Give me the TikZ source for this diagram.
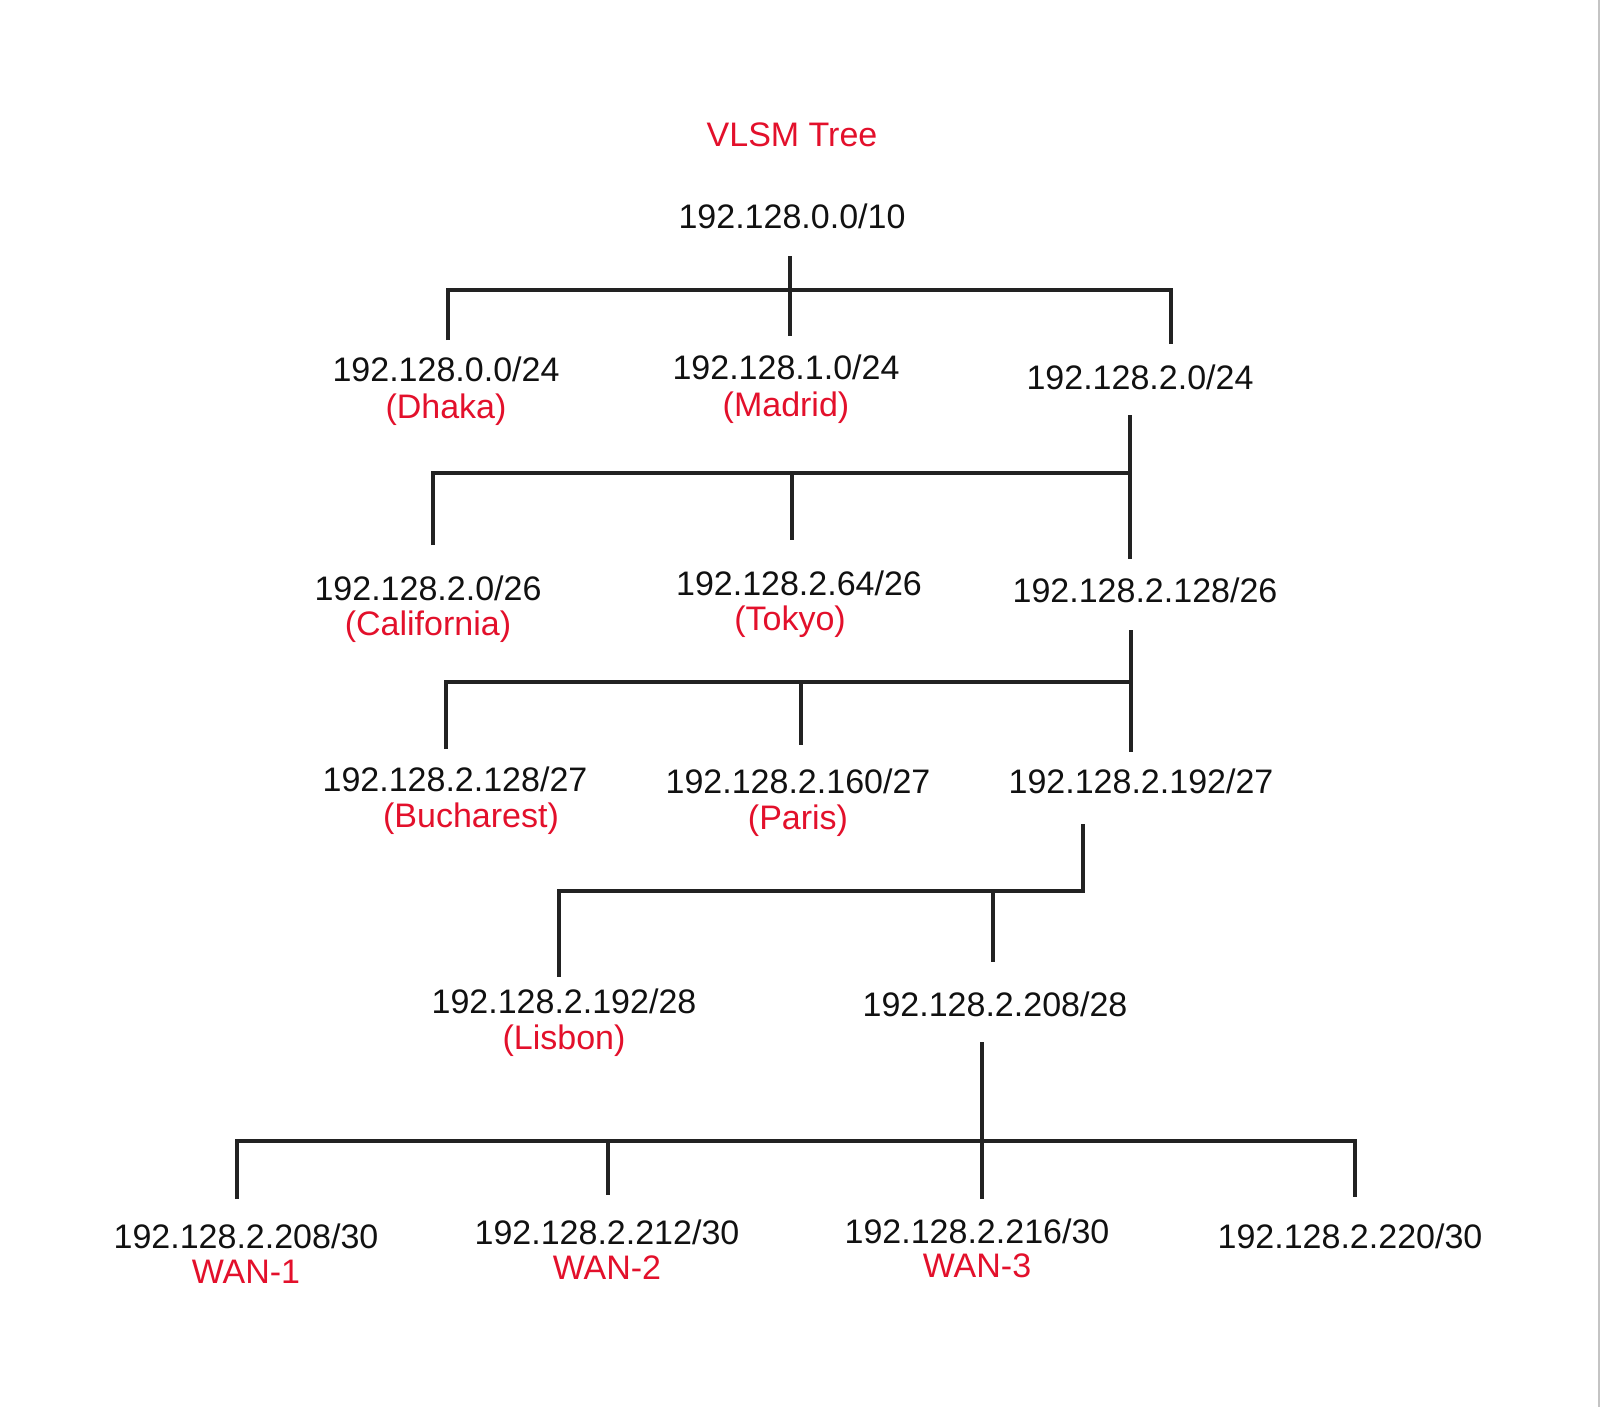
\documentclass[tikz,border=0pt]{standalone}
\usepackage{fontspec}
\setmainfont{Liberation Sans}
\definecolor{txt}{HTML}{111111}
\definecolor{redtxt}{HTML}{E3102B}
\definecolor{wirec}{HTML}{222222}
\definecolor{edgec}{HTML}{C4C4C4}
\begin{document}
\begin{tikzpicture}[x=1pt,y=-1pt,
  addr/.style={font=\fontsize{34}{40}\selectfont, text=txt, anchor=base, inner sep=0pt},
  lbl/.style={addr, text=redtxt},
  wire/.style={line width=3.2pt, draw=wirec, line join=miter}]
\useasboundingbox[fill=white] (0,0) rectangle (1600,1407);
\draw[edgec, line width=1.5pt] (1599,0) -- (1599,1407);

% texts (base = centre + 12)
\node[lbl]  (title) at (792,147) {VLSM Tree};
\node[addr] (root)  at (792,228) {192.128.0.0/10};

\node[addr] (a0)  at (446,381) {192.128.0.0/24};
\node[lbl]  (a0l) at (446,418) {(Dhaka)};
\node[addr] (a1)  at (786,379) {192.128.1.0/24};
\node[lbl]  (a1l) at (786,416) {(Madrid)};
\node[addr] (a2)  at (1140,389) {192.128.2.0/24};

\node[addr] (b0)  at (428,600) {192.128.2.0/26};
\node[lbl]  (b0l) at (428,635) {(California)};
\node[addr] (b1)  at (799,595) {192.128.2.64/26};
\node[lbl]  (b1l) at (790,630) {(Tokyo)};
\node[addr] (b2)  at (1145,602) {192.128.2.128/26};

\node[addr] (c0)  at (455,791) {192.128.2.128/27};
\node[lbl]  (c0l) at (471,827) {(Bucharest)};
\node[addr] (c1)  at (798,793) {192.128.2.160/27};
\node[lbl]  (c1l) at (798,829) {(Paris)};
\node[addr] (c2)  at (1141,793) {192.128.2.192/27};

\node[addr] (d0)  at (564,1013) {192.128.2.192/28};
\node[lbl]  (d0l) at (564,1049) {(Lisbon)};
\node[addr] (d1)  at (995,1016) {192.128.2.208/28};

\node[addr] (e0)  at (246,1248) {192.128.2.208/30};
\node[lbl]  (e0l) at (246,1283) {WAN-1};
\node[addr] (e1)  at (607,1244) {192.128.2.212/30};
\node[lbl]  (e1l) at (607,1279) {WAN-2};
\node[addr] (e2)  at (977,1243) {192.128.2.216/30};
\node[lbl]  (e2l) at (977,1277) {WAN-3};
\node[addr] (e3)  at (1350,1248) {192.128.2.220/30};

% level 1 connectors
\coordinate (r0) at (790,256);
\coordinate (r1) at (790,290);
\coordinate (ra0) at (448,340);
\coordinate (ra1) at (790,336);
\coordinate (ra2) at (1171,344);
\draw[wire] (ra0) -- (ra0 |- r1) -- (ra2 |- r1) -- (ra2);
\draw[wire] (r0) -- (ra1);

% level 2 connectors
\coordinate (s0) at (1130,415);
\coordinate (s1) at (1130,473);
\coordinate (sb0) at (433,545);
\coordinate (sb1) at (792,540);
\coordinate (sb2) at (1130,559);
\draw[wire] (sb0) -- (sb0 |- s1) -- (s1);
\draw[wire] (s0) -- (sb2);
\draw[wire] (sb1 |- s1) -- (sb1);

% level 3 connectors
\coordinate (t0) at (1131,630);
\coordinate (t1) at (1133,682);
\coordinate (tc0) at (446,749);
\coordinate (tc1) at (801,745);
\coordinate (tc2) at (1131,752);
\draw[wire] (tc0) -- (tc0 |- t1) -- (t1);
\draw[wire] (t0) -- (tc2);
\draw[wire] (tc1 |- t1) -- (tc1);

% level 4 connectors
\coordinate (u0) at (1083,824);
\coordinate (u1) at (1083,891);
\coordinate (ud0) at (559,977);
\coordinate (ud1) at (993,962);
\draw[wire] (u0) -- (u1) -- (ud0 |- u1) -- (ud0);
\draw[wire] (ud1 |- u1) -- (ud1);

% level 5 connectors
\coordinate (v0) at (982,1042);
\coordinate (v1) at (982,1141);
\coordinate (ve0) at (237,1199);
\coordinate (ve1) at (608,1195);
\coordinate (ve2) at (982,1199);
\coordinate (ve3) at (1355,1197);
\draw[wire] (ve0) -- (ve0 |- v1) -- (ve3 |- v1) -- (ve3);
\draw[wire] (v0) -- (ve2);
\draw[wire] (ve1 |- v1) -- (ve1);
\end{tikzpicture}
\end{document}
